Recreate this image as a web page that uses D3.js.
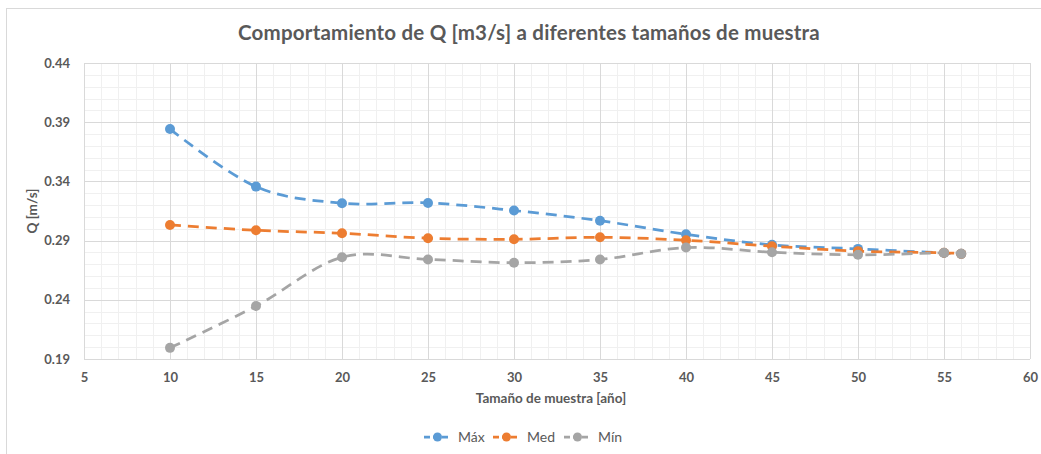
<!DOCTYPE html>
<html>
<head>
<meta charset="utf-8">
<script src="https://cdn.jsdelivr.net/npm/d3@7"></script>
<style>
  html, body { margin: 0; padding: 0; background: #fff; }
  svg { display: block; }
  text { font-family: Lato, "Open Sans", sans-serif; }
</style>
</head>
<body>
<svg id="chart" width="1041" height="454"></svg>
<script>
const sampleSizes = [10, 15, 20, 25, 30, 35, 40, 45, 50, 55, 56];
const maxValues = [0.3842, 0.3356, 0.3216, 0.3218, 0.3154, 0.3068, 0.2953, 0.2864, 0.2830, 0.2795, 0.2788];
const medValues = [0.3032, 0.2987, 0.2962, 0.2920, 0.2911, 0.2928, 0.2903, 0.2853, 0.2811, 0.2797, 0.2788];
const minValues = [0.1994, 0.2347, 0.2759, 0.2741, 0.2713, 0.2741, 0.2841, 0.2802, 0.2780, 0.2797, 0.2788];
const seriesNames = ["Máx", "Med", "Mín"];
const seriesColors = ["#5B9BD5", "#ED7D31", "#A5A5A5"];
const xTicks = [5, 10, 15, 20, 25, 30, 35, 40, 45, 50, 55, 60];
const yTicks = [0.19, 0.24, 0.29, 0.34, 0.39, 0.44];
const titleText = "Comportamiento de Q [m3/s] a diferentes tamaños de muestra";
const xTitle = "Tamaño de muestra [año]";
const yTitle = "Q [m/s]";

const svg = d3.select("#chart");
const W = 1041, H = 454;
const plot = { left: 84, right: 1030, top: 63, bottom: 359 };

// chart border
svg.append("rect").attr("x", 6.5).attr("y", 8.5).attr("width", W + 10).attr("height", H + 10)
  .attr("fill", "#fff").attr("stroke", "#d9d9d9").attr("stroke-width", 1);

const x = d3.scaleLinear().domain([5, 60]).range([plot.left, plot.right]);
const y = d3.scaleLinear().domain([0.19, 0.44]).range([plot.bottom, plot.top]);

const g = svg.append("g");

// minor grid
const minorX = d3.range(5, 60.001, 1).filter(v => v % 5 !== 0);
const minorY = d3.range(19, 44.001, 1).map(v => v / 100).filter((v, i) => i % 5 !== 0);
g.selectAll(".mgx").data(minorX).enter().append("line")
  .attr("x1", d => Math.round(x(d)) + 0.5).attr("x2", d => Math.round(x(d)) + 0.5)
  .attr("y1", plot.top).attr("y2", plot.bottom)
  .attr("stroke", "#f0f0f0").attr("stroke-width", 1);
g.selectAll(".mgy").data(minorY).enter().append("line")
  .attr("y1", d => Math.round(y(d)) + 0.5).attr("y2", d => Math.round(y(d)) + 0.5)
  .attr("x1", plot.left).attr("x2", plot.right)
  .attr("stroke", "#f0f0f0").attr("stroke-width", 1);
// major grid
g.selectAll(".gx").data(xTicks).enter().append("line")
  .attr("x1", d => Math.round(x(d)) + 0.5).attr("x2", d => Math.round(x(d)) + 0.5)
  .attr("y1", plot.top).attr("y2", plot.bottom)
  .attr("stroke", "#d9d9d9").attr("stroke-width", 1);
g.selectAll(".gy").data(yTicks).enter().append("line")
  .attr("y1", d => Math.round(y(d)) + 0.5).attr("y2", d => Math.round(y(d)) + 0.5)
  .attr("x1", plot.left).attr("x2", plot.right)
  .attr("stroke", "#d9d9d9").attr("stroke-width", 1);

// axes via d3 axis (labels only)
const xAxis = d3.axisBottom(x).tickValues(xTicks).tickSize(0).tickPadding(14).tickFormat(d3.format("d"));
const yAxis = d3.axisLeft(y).tickValues(yTicks).tickSize(0).tickPadding(14).tickFormat(d3.format(".2f"));
const gx = svg.append("g").attr("transform", `translate(0,${plot.bottom})`).call(xAxis);
const gy = svg.append("g").attr("transform", `translate(${plot.left},0)`).call(yAxis);
[gx, gy].forEach(a => {
  a.select(".domain").remove();
  a.selectAll("text").attr("fill", "#595959").attr("font-size", 13).attr("font-weight", "bold")
    .attr("font-family", "Lato, sans-serif");
});

// series
const series = [maxValues, medValues, minValues].map((vals, i) => ({
  name: seriesNames[i], color: seriesColors[i],
  points: sampleSizes.map((s, j) => ({ x: s, y: vals[j] }))
}));
const line = d3.line().x(d => x(d.x)).y(d => y(d.y)).curve(d3.curveCardinal.tension(0));
series.forEach(s => {
  const sg = svg.append("g");
  sg.append("path").attr("d", line(s.points)).attr("fill", "none")
    .attr("stroke", s.color).attr("stroke-width", 2.75).attr("stroke-dasharray", "11,7");
  sg.selectAll("circle").data(s.points).enter().append("circle")
    .attr("cx", d => x(d.x)).attr("cy", d => y(d.y)).attr("r", 5).attr("fill", s.color);
});

// title
svg.append("text").attr("x", 529).attr("y", 40).attr("text-anchor", "middle")
  .attr("font-size", 20.5).attr("font-weight", "bold").attr("fill", "#595959")
  .attr("letter-spacing", 0.2).text(titleText);
// axis titles
svg.append("text").attr("x", 551).attr("y", 403).attr("text-anchor", "middle")
  .attr("font-size", 13.5).attr("font-weight", "bold").attr("fill", "#595959").text(xTitle);
svg.append("text").attr("transform", `translate(37,211) rotate(-90)`).attr("text-anchor", "middle")
  .attr("font-size", 13.5).attr("font-weight", "bold").attr("fill", "#595959").text(yTitle);

// legend
const legendX = [424, 493, 564];
series.forEach((s, i) => {
  const lg = svg.append("g").attr("transform", `translate(${legendX[i]},437)`);
  lg.append("line").attr("x1", 0).attr("x2", 27).attr("y1", 0).attr("y2", 0)
    .attr("stroke", s.color).attr("stroke-width", 2.75).attr("stroke-dasharray", "6,3");
  lg.append("circle").attr("cx", 13.5).attr("cy", 0).attr("r", 4.5).attr("fill", s.color);
  lg.append("text").attr("x", 34).attr("y", 5).attr("font-size", 14).attr("fill", "#595959")
    .text(s.name);
});
</script>
</body>
</html>
